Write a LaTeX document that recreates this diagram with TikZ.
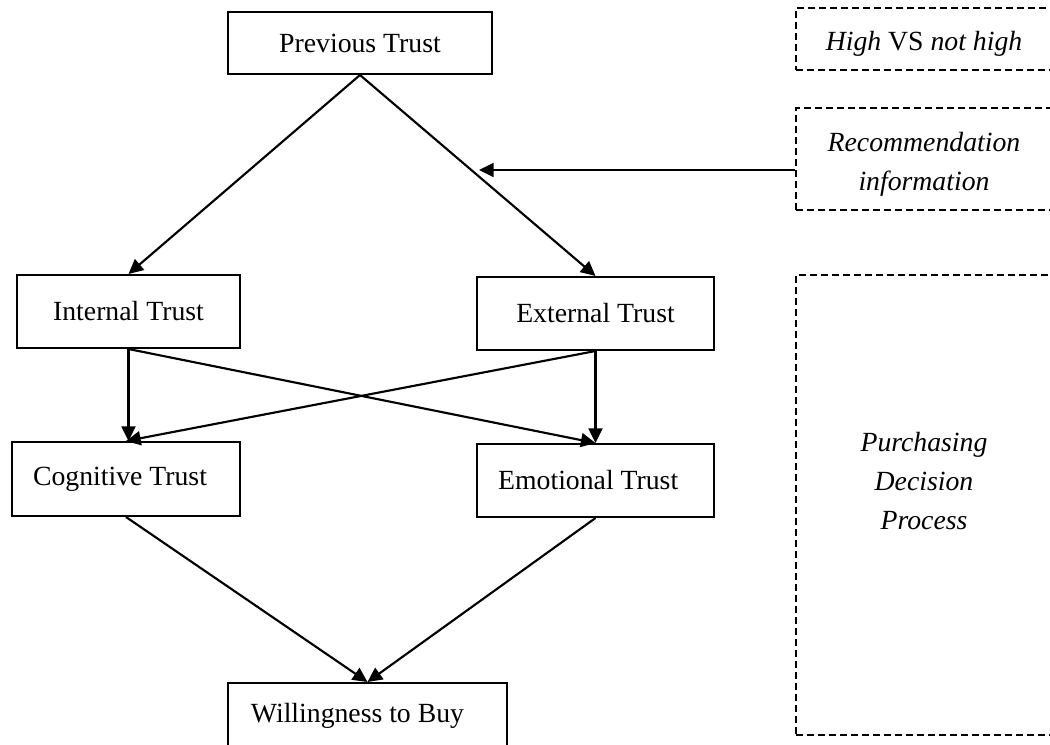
\documentclass[tikz,border=0pt]{standalone}
\usepackage{fontspec}
\setmainfont{Liberation Serif}
\usetikzlibrary{arrows.meta}
\begin{document}
\begin{tikzpicture}[x=0.75pt,y=-0.75pt,
  box/.style={draw,line width=1.5pt,inner sep=0pt,font=\fontsize{20.8}{29.5}\selectfont},
  dbox/.style={draw,line width=1.5pt,dash pattern=on 5.25pt off 3pt,inner sep=0pt,minimum width=194.25pt},
  lbl/.style={font=\fontsize{20.8}{29.5}\selectfont\itshape,align=center,inner sep=0pt},
  conn/.style={line width=1.6pt,-{Triangle[length=11pt,width=10.5pt]}}]
\useasboundingbox (0,0) rectangle (1050,744);
% solid boxes
\node[box,minimum width=198pt,minimum height=46.5pt] (prev) at (360,43) {Previous Trust};
\node[box,minimum width=167.25pt,minimum height=54.75pt] (int) at (128.5,311.5) {Internal Trust};
\node[box,minimum width=177.75pt,minimum height=54.75pt] (ext) at (595.5,313.5) {External Trust};
\node[box,minimum width=171pt,minimum height=55.5pt] (cog) at (126,479) {Cognitive Trust\kern9pt};
\node[box,minimum width=177.75pt,minimum height=54.75pt] (emo) at (595.5,480.5) {Emotional Trust\kern11pt};
\node[box,minimum width=209.25pt,minimum height=48.75pt] (will) at (367.5,715.5) {Willingness to Buy\kern15pt};
% dashed boxes
\node[dbox,minimum height=46.5pt] (d1) at (925.5,39) {};
\node[dbox,minimum height=76.5pt] (d2) at (925.5,159) {};
\node[dbox,minimum height=345pt] (d3) at (925.5,505) {};
\node[lbl,anchor=base] (t1) at (924,50) {High \textup{VS} not high};
\node[lbl] (t2) at (924,164) {Recommendation\\information};
\node[lbl] (t3) at (924,481) {Purchasing\\Decision\\Process};
% connectors
\draw[conn] (prev.south) -- (int.north);
\draw[conn] (prev.south) -- (ext.north);
\coordinate (rt) at (479,170);
\draw[conn] (d2.west |- rt) -- (rt);
\draw[conn] (int.south) -- (int.south |- cog.north);
\draw[conn] (int.south) -- (emo.north);
\draw[conn] (ext.south) -- (cog.north);
\draw[conn] (ext.south) -- (ext.south |- emo.north);
\draw[conn] (cog.south) -- (will.north);
\draw[conn] (emo.south) -- (will.north);
\end{tikzpicture}
\end{document}
